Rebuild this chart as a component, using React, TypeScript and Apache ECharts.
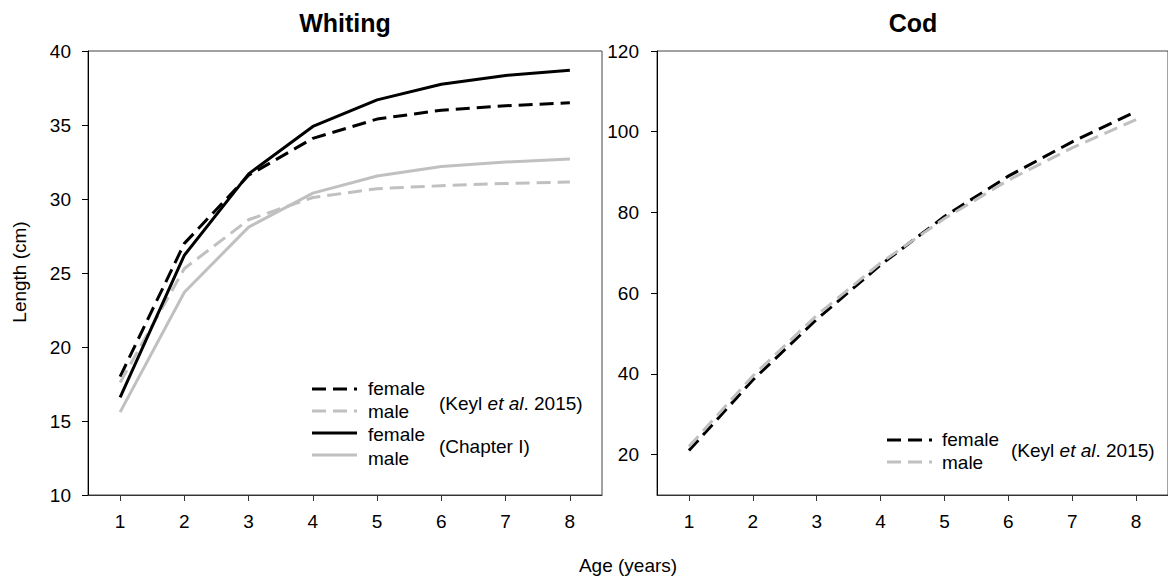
import React, { useEffect, useRef } from "react";
import * as echarts from "echarts";

const ages = [1, 2, 3, 4, 5, 6, 7, 8];
const whitingKeylFemale = [18.0, 27.0, 31.6, 34.1, 35.4, 36.0, 36.3, 36.5];
const whitingKeylMale = [17.6, 25.3, 28.6, 30.1, 30.7, 30.9, 31.05, 31.15];
const whitingChapterFemale = [16.6, 26.2, 31.7, 34.9, 36.7, 37.75, 38.35, 38.7];
const whitingChapterMale = [15.6, 23.7, 28.1, 30.4, 31.55, 32.2, 32.5, 32.7];
const codKeylFemale = [21, 38.5, 53.5, 67, 79, 89, 97.5, 105];
const codKeylMale = [22, 39.5, 54.5, 67.5, 78.5, 88, 96, 103];
const whitingTicks = [10, 15, 20, 25, 30, 35, 40];
const codTicks = [20, 40, 60, 80, 100, 120];

const FONT = "Liberation Sans, Arial, sans-serif";
const FS = 19;
const BLACK = "#000000";
const GRAY = "#c0c0c0";
const DASH = [14, 7];

const pairs = (ys: number[]) => ages.map((a, i) => [a, ys[i]]);

function legendLine(x: number, y: number, color: string, dashed: boolean) {
  return {
    type: "line",
    shape: { x1: x, y1: y, x2: x + 45, y2: y },
    style: { stroke: color, lineWidth: 3, lineDash: dashed ? DASH : null },
    silent: true,
  };
}
function legendText(x: number, y: number, text: string) {
  return {
    type: "text",
    x,
    y,
    style: { text, fill: "#000", font: `${FS}px ${FONT}`, textVerticalAlign: "middle" },
    silent: true,
  };
}
function sourceText(x: number, y: number, chapter: boolean) {
  return {
    type: "text",
    x,
    y,
    style: chapter
      ? { text: "(Chapter I)", fill: "#000", font: `${FS}px ${FONT}`, textVerticalAlign: "middle" }
      : {
          text: "{n|(Keyl }{i|et al}{n|. 2015)}",
          textVerticalAlign: "middle",
          rich: {
            n: { fontFamily: FONT, fontSize: FS, fill: "#000", color: "#000" },
            i: { fontFamily: FONT, fontSize: FS, fontStyle: "italic", fill: "#000", color: "#000" },
          },
        },
    silent: true,
  };
}

export default function App() {
  const ref = useRef<HTMLDivElement>(null);
  useEffect(() => {
    if (!ref.current) return;
    const chart = echarts.init(ref.current, null, { renderer: "svg" });
    const xAxisBase = (gridIndex: number) => ({
      type: "value",
      gridIndex,
      min: 0.5,
      max: 8.5,
      axisLine: { show: true, lineStyle: { color: "#333", width: 1 } },
      axisTick: { show: true, length: 6, customValues: ages, lineStyle: { color: "#333" } },
      axisLabel: { customValues: ages, margin: 17, fontSize: FS, color: "#000", fontFamily: FONT },
      splitLine: { show: false },
    });
    const option: any = {
      animation: false,
      backgroundColor: "#ffffff",
      grid: [
        { left: 88, top: 51, width: 514, height: 444, show: true, borderColor: "#444", borderWidth: 1, backgroundColor: "transparent" },
        { left: 657, top: 51, width: 513, height: 444, show: true, borderColor: "#444", borderWidth: 1, backgroundColor: "transparent" },
      ],
      xAxis: [xAxisBase(0), xAxisBase(1)],
      yAxis: [
        {
          type: "value",
          gridIndex: 0,
          min: 10,
          max: 40,
          interval: 5,
          axisLine: { show: true, lineStyle: { color: "#000" } },
          axisTick: { show: true, length: 6, lineStyle: { color: "#000" } },
          axisLabel: { margin: 17, fontSize: FS, color: "#000", fontFamily: FONT, customValues: whitingTicks },
          splitLine: { show: false },
        },
        {
          type: "value",
          gridIndex: 1,
          min: 10,
          max: 120,
          axisLine: { show: true, lineStyle: { color: "#000" } },
          axisTick: { show: true, length: 6, customValues: codTicks, lineStyle: { color: "#000" } },
          axisLabel: { margin: 18, fontSize: FS, color: "#000", fontFamily: FONT, customValues: codTicks },
          splitLine: { show: false },
        },
      ],
      series: [
        { name: "Whiting female (Keyl et al. 2015)", type: "line", xAxisIndex: 0, yAxisIndex: 0, data: pairs(whitingKeylFemale), symbol: "none", lineStyle: { color: BLACK, width: 3, type: DASH } },
        { name: "Whiting male (Keyl et al. 2015)", type: "line", xAxisIndex: 0, yAxisIndex: 0, data: pairs(whitingKeylMale), symbol: "none", lineStyle: { color: GRAY, width: 3, type: DASH } },
        { name: "Whiting female (Chapter I)", type: "line", xAxisIndex: 0, yAxisIndex: 0, data: pairs(whitingChapterFemale), symbol: "none", lineStyle: { color: BLACK, width: 3 } },
        { name: "Whiting male (Chapter I)", type: "line", xAxisIndex: 0, yAxisIndex: 0, data: pairs(whitingChapterMale), symbol: "none", lineStyle: { color: GRAY, width: 3 } },
        { name: "Cod female (Keyl et al. 2015)", type: "line", xAxisIndex: 1, yAxisIndex: 1, data: pairs(codKeylFemale), symbol: "none", lineStyle: { color: BLACK, width: 3, type: DASH } },
        { name: "Cod male (Keyl et al. 2015)", type: "line", xAxisIndex: 1, yAxisIndex: 1, data: pairs(codKeylMale), symbol: "none", lineStyle: { color: GRAY, width: 3, type: DASH } },
      ],
      graphic: [
        { type: "text", x: 345, y: 23, style: { text: "Whiting", font: `bold 25px ${FONT}`, fill: "#000", textAlign: "center", textVerticalAlign: "middle" } },
        { type: "text", x: 913, y: 23, style: { text: "Cod", font: `bold 25px ${FONT}`, fill: "#000", textAlign: "center", textVerticalAlign: "middle" } },
        { type: "text", x: 628, y: 565, style: { text: "Age (years)", font: `${FS}px ${FONT}`, fill: "#000", textAlign: "center", textVerticalAlign: "middle" } },
        { type: "text", x: 19, y: 272, rotation: Math.PI / 2, style: { text: "Length (cm)", font: `${FS}px ${FONT}`, fill: "#000", textAlign: "center", textVerticalAlign: "middle" } },
        legendLine(312, 389, BLACK, true),
        legendLine(312, 411, GRAY, true),
        legendLine(312, 433, BLACK, false),
        legendLine(312, 455, GRAY, false),
        legendText(368, 388, "female"),
        legendText(368, 411, "male"),
        legendText(368, 434, "female"),
        legendText(368, 458, "male"),
        sourceText(439, 403, false),
        sourceText(439, 446, true),
        legendLine(887, 440, BLACK, true),
        legendLine(887, 462, GRAY, true),
        legendText(942, 439, "female"),
        legendText(942, 462, "male"),
        sourceText(1011, 450, false),
      ],
    };
    chart.setOption(option);
    return () => chart.dispose();
  }, []);
  return <div ref={ref} style={{ position: "fixed", left: 0, top: 0, width: 1168, height: 576 }} />;
}
